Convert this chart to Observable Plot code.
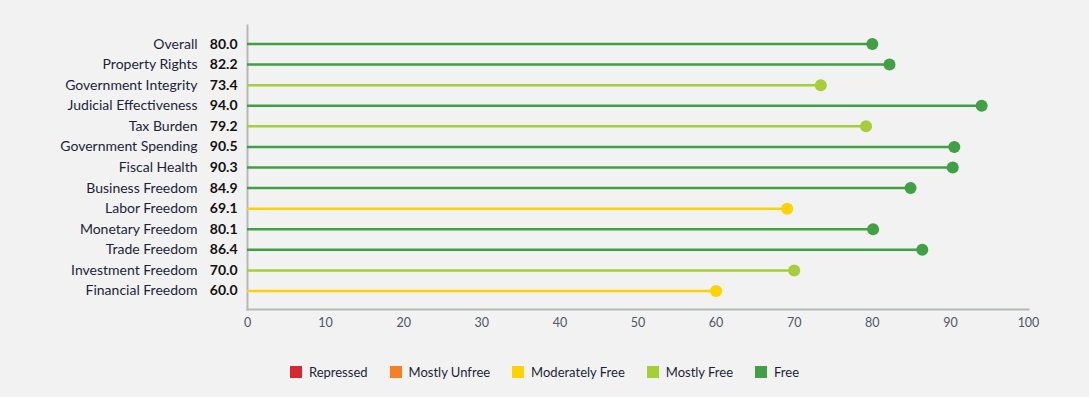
<!DOCTYPE html>
<html>
<head>
<meta charset="utf-8">
<script src="https://cdn.jsdelivr.net/npm/d3@7"></script>
<script src="https://cdn.jsdelivr.net/npm/@observablehq/plot@0.6"></script>
<style>
  html, body { margin: 0; padding: 0; background: #f2f2f2; }
  body { width: 1089px; height: 397px; font-family: Lato, "Open Sans", sans-serif; }
  #legend { display: flex; justify-content: center; gap: 22px; margin-top: 19px; margin-left: 0px; font-size: 13px; color: #1c1f3a; }
  #legend .item { display: flex; align-items: center; gap: 7px; }
  #legend .sw { width: 12px; height: 12px; display: inline-block; }
</style>
</head>
<body>
<div id="chart"></div>
<div id="legend"></div>
<script>
const categories = ["Overall","Property Rights","Government Integrity","Judicial Effectiveness","Tax Burden","Government Spending","Fiscal Health","Business Freedom","Labor Freedom","Monetary Freedom","Trade Freedom","Investment Freedom","Financial Freedom"];
const scores = [80.0, 82.2, 73.4, 94.0, 79.2, 90.5, 90.3, 84.9, 69.1, 80.1, 86.4, 70.0, 60.0];
const levels = ["Free","Free","Mostly Free","Free","Mostly Free","Free","Free","Free","Moderately Free","Free","Free","Mostly Free","Moderately Free"];
const legendLabels = ["Repressed","Mostly Unfree","Moderately Free","Mostly Free","Free"];
const legendColors = ["#d7282f","#f58025","#ffd200","#a6ce39","#41a043"];
const xTicks = [0,10,20,30,40,50,60,70,80,90,100];

const data = categories.map((c, i) => ({category: c, score: scores[i], level: levels[i]}));

const chart = Plot.plot({
  width: 1089,
  height: 345,
  marginLeft: 247,
  marginRight: 61,
  marginTop: 25,
  marginBottom: 36,
  style: {background: "#f2f2f2", fontFamily: "Lato, 'Open Sans', sans-serif"},
  x: {domain: [0, 100], ticks: xTicks},
  y: {type: "point", domain: categories, padding: 0.9, round: false, axis: null},
  color: {domain: legendLabels, range: legendColors},
  marks: [
    Plot.axisX({ticks: xTicks, tickSize: 0, tickPadding: 9, fontSize: 12.5, color: "#4f5566", label: null}),
    Plot.frame({anchor: "left", stroke: "#b5b7b8", strokeWidth: 2, strokeOpacity: 1}),
    Plot.frame({anchor: "bottom", stroke: "#b5b7b8", strokeWidth: 2, strokeOpacity: 1}),
    Plot.ruleY(data, {y: "category", x1: 0, x2: "score", stroke: "level", strokeWidth: 2.5}),
    Plot.dot(data, {y: "category", x: "score", fill: "level", r: 6}),
    Plot.text(data, {y: "category", x: 0, text: d => d.score.toFixed(1), dx: -10, textAnchor: "end", fontWeight: "bold", fontSize: 14, fill: "#111"}),
    Plot.text(data, {y: "category", x: 0, text: "category", dx: -50, textAnchor: "end", fontSize: 14, fill: "#1c1f3a"})
  ]
});
document.getElementById("chart").appendChild(chart);

const legend = document.getElementById("legend");
legendLabels.forEach((l, i) => {
  const item = document.createElement("div");
  item.className = "item";
  item.innerHTML = `<span class="sw" style="background:${legendColors[i]}"></span><span>${l}</span>`;
  legend.appendChild(item);
});
</script>
</body>
</html>
